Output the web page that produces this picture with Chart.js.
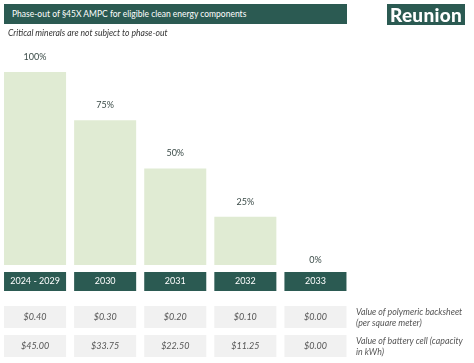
<!DOCTYPE html>
<html>
<head>
<meta charset="utf-8">
<script src="https://cdn.jsdelivr.net/npm/chart.js"></script>
<style>
  body { margin: 0; background: #fff; font-family: Lato, sans-serif; }
  #wrap { position: relative; width: 474px; height: 363px; overflow: hidden; }
  canvas { position: absolute; left: 0; top: 0; }
  .titlebar { position: absolute; left: 4px; top: 4px; width: 343px; height: 20px; background: #2b5a52;
    color: #fff; font-size: 8.5px; line-height: 20px; padding-left: 8px; box-sizing: border-box; }
  .logo { position: absolute; left: 387px; top: 4px; width: 78px; height: 21px; background: #2b5a52;
    color: #fff; font-weight: 900; font-size: 19px; line-height: 21px; text-align: center; letter-spacing: 0.3px; }
  .sub { position: absolute; left: 8px; top: 28px; font-size: 8.6px; font-style: italic; color: #333; }
  .rowlab { position: absolute; left: 356px; font-size: 8.8px; font-style: italic; color: #555; line-height: 11px; }
</style>
</head>
<body>
<div id="wrap">
  <canvas id="chart" width="474" height="363"></canvas>
  <div class="titlebar">Phase-out of §45X AMPC for eligible clean energy components</div>
  <div class="logo">Reunion</div>
  <div class="sub">Critical minerals are not subject to phase-out</div>
  <div class="rowlab" style="top:306px">Value of polymeric backsheet<br>(per square meter)</div>
  <div class="rowlab" style="top:335px">Value of battery cell (capacity<br>in kWh)</div>
</div>
<script>
const categories = ['2024 - 2029', '2030', '2031', '2032', '2033'];
const creditShare = [100, 75, 50, 25, 0];
const backsheetValues = ['$0.40', '$0.30', '$0.20', '$0.10', '$0.00'];
const batteryValues = ['$45.00', '$33.75', '$22.50', '$11.25', '$0.00'];

const tablePlugin = {
  id: 'tablePlugin',
  afterDraw(chart) {
    const ctx = chart.ctx;
    const meta = chart.getDatasetMeta(0);
    ctx.save();
    meta.data.forEach((bar, i) => {
      const w = bar.width;
      const left = bar.x - w / 2;

      // percent label above bar (sits just over the baseline when empty)
      ctx.fillStyle = '#3b4b48';
      ctx.font = '9px Lato, sans-serif';
      ctx.textAlign = 'center';
      ctx.textBaseline = 'middle';
      const ly = creditShare[i] === 0 ? chart.chartArea.bottom - 5 : bar.y - 15;
      ctx.fillText(creditShare[i] + '%', bar.x, ly);

      // category box
      ctx.fillStyle = '#2b5a52';
      ctx.fillRect(left, 272, w, 19);
      ctx.fillStyle = '#fff';
      ctx.font = '9px Lato, sans-serif';
      ctx.fillText(categories[i], bar.x, 281.5);

      // value cells
      ctx.fillStyle = '#f1f1f1';
      ctx.fillRect(left, 306, w, 22);
      ctx.fillRect(left, 335, w, 22);
      ctx.fillStyle = '#555';
      ctx.font = 'italic 9px Lato, sans-serif';
      ctx.fillText(backsheetValues[i], bar.x, 317);
      ctx.fillText(batteryValues[i], bar.x, 346);
    });
    ctx.restore();
  }
};

new Chart(document.getElementById('chart'), {
  type: 'bar',
  data: {
    labels: categories,
    datasets: [{
      data: creditShare,
      backgroundColor: '#e0ebd3',
      borderWidth: 0,
      barPercentage: 0.885,
      categoryPercentage: 1,
    }],
  },
  options: {
    responsive: false,
    animation: false,
    layout: { padding: { left: 0, right: 123.5, top: 72, bottom: 98 } },
    scales: {
      x: { display: false },
      y: { display: false, min: 0, max: 100 },
    },
    plugins: {
      legend: { display: false },
      tooltip: { enabled: false },
    },
  },
  plugins: [tablePlugin],
});
</script>
</body>
</html>
